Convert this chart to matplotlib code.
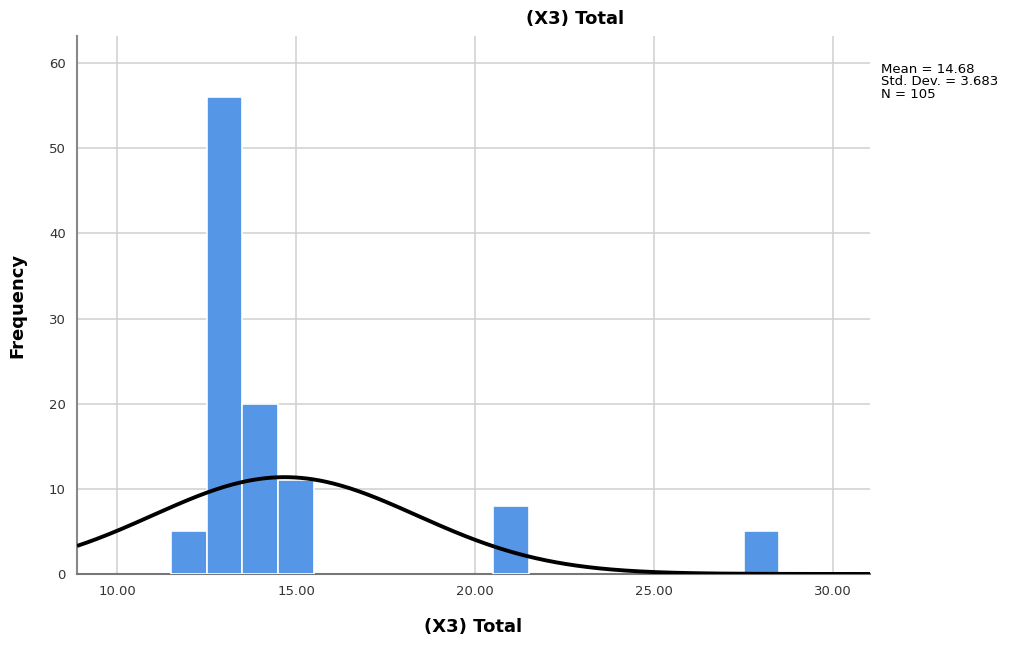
import matplotlib
matplotlib.use("Agg")
import matplotlib.pyplot as plt
import numpy as np

# histogram bins (centre values, width 1) and counts
bin_centers = [12, 13, 14, 15, 21, 28]
counts = [5, 56, 20, 11, 8, 5]
bin_width = 1.0

mean_val = 14.68
std_val = 3.683
n_total = 105

x_ticks = [10, 15, 20, 25, 30]
y_ticks = [0, 10, 20, 30, 40, 50, 60]

plt.rcParams['font.family'] = ['DejaVu Sans']

fig = plt.figure(figsize=(10.15, 6.46), dpi=100)
ax = fig.add_axes([0.0759, 0.1115, 0.7813, 0.8328])

ax.bar(bin_centers, counts, width=bin_width, color='#5596e6',
       edgecolor='white', linewidth=1.2, zorder=3)

# normal curve scaled to the histogram
xs = np.linspace(8.88, 31.03, 400)
ys = n_total * bin_width / (std_val * np.sqrt(2 * np.pi)) * np.exp(-0.5 * ((xs - mean_val) / std_val) ** 2)
ax.plot(xs, ys, color='black', linewidth=2.8, zorder=4, solid_capstyle='butt')

ax.set_xlim(8.88, 31.03)
ax.set_ylim(0, 63.2)
ax.set_xticks(x_ticks)
ax.set_xticklabels([f"{t:.2f}" for t in x_ticks])
ax.set_yticks(y_ticks)
ax.tick_params(length=0, labelsize=9.5, colors='#333333', pad=8)

ax.grid(True, color='#cfcfcf', linewidth=1.1, zorder=0)
ax.set_axisbelow(True)
for side in ['top', 'right']:
    ax.spines[side].set_visible(False)
ax.spines['left'].set_color('#888888')
ax.spines['bottom'].set_color('#777777')
ax.spines['left'].set_linewidth(1.5)
ax.spines['bottom'].set_linewidth(1.5)

ax.set_xlabel('(X3) Total', fontsize=13, fontweight='bold', labelpad=14)
ax.set_ylabel('Frequency', fontsize=13, fontweight='bold', labelpad=16)

fig.text(0.567, 0.97, '(X3) Total', fontsize=13, fontweight='bold',
         ha='center', va='center')
fig.text(0.868, 0.903,
         f"Mean = {mean_val:.2f}\nStd. Dev. = {std_val:.3f}\nN = {n_total}",
         fontsize=9.5, ha='left', va='top', linespacing=0.95)

fig.savefig('out.png', dpi=100)
